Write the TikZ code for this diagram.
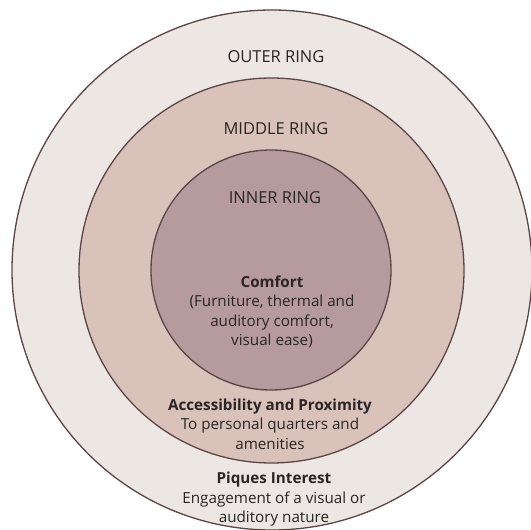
\documentclass[tikz,border=0pt]{standalone}
\usepackage{fontspec}
\setmainfont{Open Sans}
\definecolor{outerfill}{HTML}{ECE7E2}
\definecolor{middlefill}{HTML}{D9C2B9}
\definecolor{innerfill}{HTML}{B59B9E}
\definecolor{ringline}{HTML}{5A4646}
\definecolor{labeltext}{HTML}{2A2424}

\begin{document}
\begin{tikzpicture}[x=1pt, y=-1pt,
    ring/.style={circle, draw=ringline, line width=1.3pt, inner sep=0pt},
    lbl/.style={text=labeltext, align=center, font=\fontsize{15.2}{19.5}\selectfont},
    ringtitle/.style={text=labeltext, font=\fontsize{16.5}{19.5}\selectfont}]
    \useasboundingbox[fill=white] (0,0) rectangle (531,530);
    \clip (0,0) rectangle (531,530);
    \node[ring, fill=outerfill, minimum size=520pt] (outer) at (272,270) {};
    \node[ring, fill=middlefill, minimum size=385pt] (middle) at (271.5,270.5) {};
    \node[ring, fill=innerfill, minimum size=240pt] (inner) at (271,270) {};
    \node[ringtitle] (outertitle) at (276,57) {OUTER RING};
    \node[ringtitle] (middletitle) at (276,129) {MIDDLE RING};
    \node[ringtitle] (innertitle) at (275,198) {INNER RING};
    \node[lbl] (comfort) at (272,312) {\textbf{Comfort}\\(Furniture, thermal and\\auditory comfort,\\visual ease)};
    \node[lbl] (access) at (270,424) {\textbf{Accessibility and Proximity}\\To personal quarters and\\amenities};
    \node[lbl] (piques) at (274,499.5) {\textbf{Piques Interest}\\Engagement of a visual or\\auditory nature};
\end{tikzpicture}
\end{document}
